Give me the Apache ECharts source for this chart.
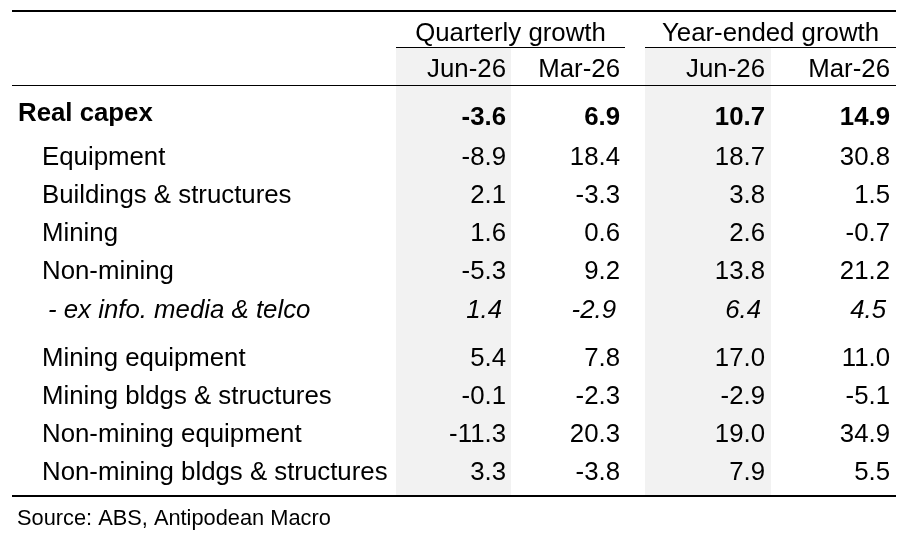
<!DOCTYPE html>
<html><head><meta charset="utf-8">
<script src="https://cdn.jsdelivr.net/npm/echarts@6/dist/echarts.min.js"></script>
<style>html,body{margin:0;padding:0;background:#fff}#c{width:901px;height:541px}</style>
</head><body><div id="c"></div>
<script>
// ---------- data ----------
const groupHeaders = ['Quarterly growth', 'Year-ended growth'];
const columnHeaders = ['Jun-26', 'Mar-26', 'Jun-26', 'Mar-26'];
const rowLabels = [
  'Real capex', 'Equipment', 'Buildings & structures', 'Mining', 'Non-mining',
  '- ex info. media & telco', 'Mining equipment', 'Mining bldgs & structures',
  'Non-mining equipment', 'Non-mining bldgs & structures'
];
const quarterlyJun = [-3.6, -8.9, 2.1, 1.6, -5.3, 1.4, 5.4, -0.1, -11.3, 3.3];
const quarterlyMar = [6.9, 18.4, -3.3, 0.6, 9.2, -2.9, 7.8, -2.3, 20.3, -3.8];
const yearEndedJun = [10.7, 18.7, 3.8, 2.6, 13.8, 6.4, 17.0, -2.9, 19.0, 7.9];
const yearEndedMar = [14.9, 30.8, 1.5, -0.7, 21.2, 4.5, 11.0, -5.1, 34.9, 5.5];
const sourceNote = 'Source: ABS, Antipodean Macro';

// ---------- layout & style ----------
const FONT = "'Liberation Sans', Arial, Helvetica, sans-serif";
const FS = 25.8;
const colRight = [506, 620, 765, 890];
const shadedCols = [0, 2];
const shadeSpan = [[396, 511], [645, 771]];
const groupSpan = [[396, 625], [645, 896]];
const rowStyle = ['bold', 'indent', 'indent', 'indent', 'indent', 'italic', 'indent', 'indent', 'indent', 'indent'];
const labelX = { bold: 18, indent: 42, italic: 48 };
function rowY(i) {
  if (i === 0) return 114;
  return 158 + (i - 1) * 38.1 + (i >= 6 ? 10.5 : 0);
}
const valueDy = [4, 0, 0, 0, 0, 0, 0, 0, 0, 0];
const italicDx = -4;
function fontFor(style) {
  if (style === 'bold') return 'bold ' + FS + 'px ' + FONT;
  if (style === 'italic') return 'italic ' + FS + 'px ' + FONT;
  return FS + 'px ' + FONT;
}

const valueColumns = [quarterlyJun, quarterlyMar, yearEndedJun, yearEndedMar];
const cellData = [];
valueColumns.forEach((col, c) => col.forEach((v, r) => cellData.push([c, r, v])));

function txt(x, y, text, font, align) {
  return {
    type: 'text',
    x: x, y: y,
    style: {
      text: text, font: font, fill: '#000',
      align: align, textAlign: align,
      verticalAlign: 'middle', textVerticalAlign: 'middle'
    }
  };
}

const chart = echarts.init(document.getElementById('c'), null, { renderer: 'canvas' });
chart.setOption({
  animation: false,
  backgroundColor: '#fff',
  grid: { left: 0, right: 0, top: 0, bottom: 0 },
  xAxis: { type: 'value', min: 0, max: 901, show: false },
  yAxis: { type: 'value', min: 0, max: 541, inverse: true, show: false },
  series: [
    { // shaded columns
      type: 'custom', silent: true, z: 1,
      data: shadedCols.map((c, k) => [k]),
      renderItem: function (params, api) {
        const k = api.value(0);
        const p0 = api.coord([shadeSpan[k][0], 48]);
        const p1 = api.coord([shadeSpan[k][1], 495]);
        return { type: 'rect', shape: { x: p0[0], y: p0[1], width: p1[0] - p0[0], height: p1[1] - p0[1] }, style: { fill: '#f2f2f2' } };
      }
    },
    { // group headers
      type: 'custom', silent: true, z: 3,
      data: groupHeaders.map((g, i) => [i]),
      renderItem: function (params, api) {
        const i = api.value(0);
        const p = api.coord([(groupSpan[i][0] + groupSpan[i][1]) / 2, 33.5]);
        return txt(p[0], p[1], groupHeaders[i], FS + 'px ' + FONT, 'center');
      }
    },
    { // column headers
      type: 'custom', silent: true, z: 3,
      data: columnHeaders.map((h, i) => [i]),
      renderItem: function (params, api) {
        const i = api.value(0);
        const p = api.coord([colRight[i], 69.5]);
        return txt(p[0], p[1], columnHeaders[i], FS + 'px ' + FONT, 'right');
      }
    },
    { // row labels
      type: 'custom', silent: true, z: 3,
      data: rowLabels.map((l, i) => [i]),
      renderItem: function (params, api) {
        const i = api.value(0);
        const s = rowStyle[i];
        const p = api.coord([labelX[s], rowY(i)]);
        return txt(p[0], p[1], rowLabels[i], fontFor(s), 'left');
      }
    },
    { // values
      type: 'custom', silent: true, z: 3,
      data: cellData,
      renderItem: function (params, api) {
        const c = api.value(0), r = api.value(1), v = api.value(2);
        const s = rowStyle[r];
        const p = api.coord([colRight[c] + (s === 'italic' ? italicDx : 0), rowY(r) + valueDy[r]]);
        return txt(p[0], p[1], v.toFixed(1), fontFor(s), 'right');
      }
    }
  ],
  graphic: [
    { type: 'line', z: 10, shape: { x1: 12, y1: 11, x2: 896, y2: 11 }, style: { stroke: '#000', lineWidth: 2 } },
    { type: 'line', z: 10, shape: { x1: groupSpan[0][0], y1: 47.5, x2: groupSpan[0][1], y2: 47.5 }, style: { stroke: '#000', lineWidth: 1 } },
    { type: 'line', z: 10, shape: { x1: groupSpan[1][0], y1: 47.5, x2: groupSpan[1][1], y2: 47.5 }, style: { stroke: '#000', lineWidth: 1 } },
    { type: 'line', z: 10, shape: { x1: 12, y1: 85.5, x2: 896, y2: 85.5 }, style: { stroke: '#000', lineWidth: 1 } },
    { type: 'line', z: 10, shape: { x1: 12, y1: 496, x2: 896, y2: 496 }, style: { stroke: '#000', lineWidth: 2 } },
    { type: 'text', z: 10, x: 17, y: 519, style: { text: sourceNote, font: '21.8px ' + FONT, fill: '#000', textVerticalAlign: 'middle', verticalAlign: 'middle' } }
  ]
});
</script></body></html>
